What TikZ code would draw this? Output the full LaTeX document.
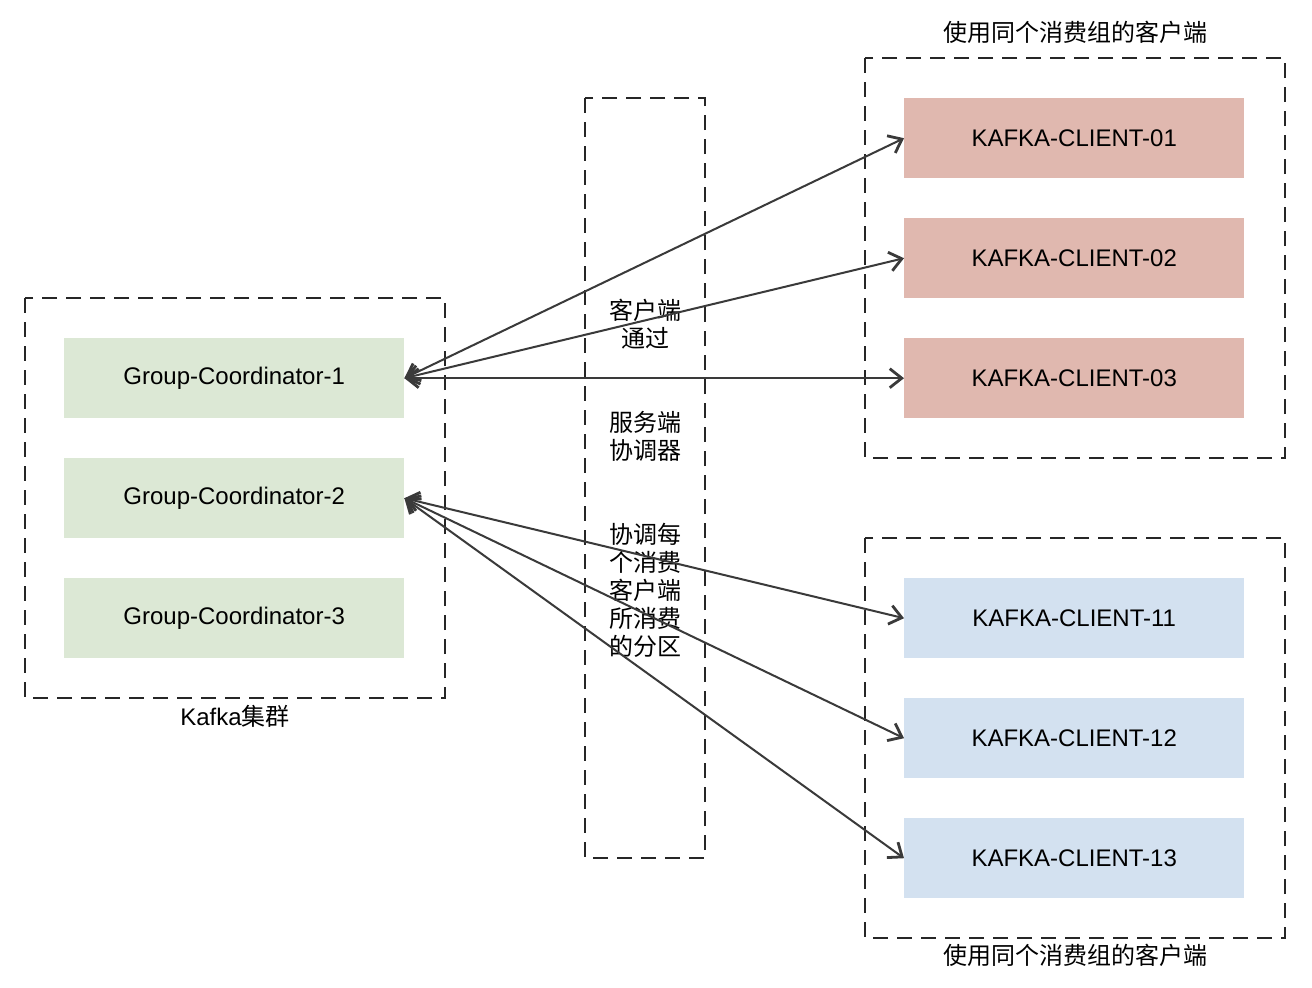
\documentclass[tikz,border=0pt]{standalone}
\usepackage{fontspec}
\setmainfont{Liberation Sans}
\newfontfamily\cjk{Noto Sans CJK SC}
\usetikzlibrary{arrows.meta}
\definecolor{pinkfill}{HTML}{E0B8AF}
\definecolor{greenfill}{HTML}{DCE8D5}
\definecolor{bluefill}{HTML}{D3E1F0}
\definecolor{linegray}{HTML}{3A3A3A}
\begin{document}
\begin{tikzpicture}[x=1pt,y=-1pt,
  every node/.style={font=\fontsize{24}{28}\selectfont},
  grp/.style={draw=black!85, line width=1.6pt, dash pattern=on 15pt off 9pt},
  boxbase/.style={minimum width=340pt, minimum height=80pt, inner sep=0pt, anchor=north west},
  gbox/.style={boxbase, fill=greenfill},
  pbox/.style={boxbase, fill=pinkfill},
  bbox/.style={boxbase, fill=bluefill},
  tipstyle/.style={},
  conn/.style={draw=linegray, line width=2pt, {Straight Barb[length=12pt,width=19pt,line width=2.8pt]}-{Straight Barb[length=12pt,width=19pt,line width=2.8pt]}},
  lbl/.style={font=\cjk\fontsize{24}{28}\selectfont, align=center, inner sep=0pt}
]
\fill[white] (0,0) rectangle (1312,988);
\useasboundingbox (0,0) rectangle (1312,988);

% group frames
\draw[grp] (25,298) rectangle (445,698);
\draw[grp] (585,98) rectangle (705,858);
\draw[grp] (865,58) rectangle (1285,458);
\draw[grp] (865,538) rectangle (1285,938);

% coordinators
\node[gbox] (g1) at (64,338) {Group-Coordinator-1};
\node[gbox] (g2) at (64,458) {Group-Coordinator-2};
\node[gbox] (g3) at (64,578) {Group-Coordinator-3};

% clients
\node[pbox] (c01) at (904,98) {KAFKA-CLIENT-01};
\node[pbox] (c02) at (904,218) {KAFKA-CLIENT-02};
\node[pbox] (c03) at (904,338) {KAFKA-CLIENT-03};
\node[bbox] (c11) at (904,578) {KAFKA-CLIENT-11};
\node[bbox] (c12) at (904,698) {KAFKA-CLIENT-12};
\node[bbox] (c13) at (904,818) {KAFKA-CLIENT-13};

% labels
\node[lbl] (lk) at (235,716) {{\fontspec{Liberation Sans}Kafka}集群};
\node[lbl] (lt) at (1075,32) {使用同个消费组的客户端};
\node[lbl] (lb) at (1075,955) {使用同个消费组的客户端};
\node[lbl] (m1) at (645,324) {客户端\\通过};
\node[lbl] (m2) at (645,436) {服务端\\协调器};
\node[lbl] (m3) at (645,590) {协调每\\个消费\\客户端\\所消费\\的分区};

% connectors
\draw[conn] (g1.east) -- (c01.west);
\draw[conn] (g1.east) -- (c02.west);
\draw[conn] (g1.east) -- (c03.west);
\draw[conn] (g2.east) -- (c11.west);
\draw[conn] (g2.east) -- (c12.west);
\draw[conn] (g2.east) -- (c13.west);
\end{tikzpicture}
\end{document}
